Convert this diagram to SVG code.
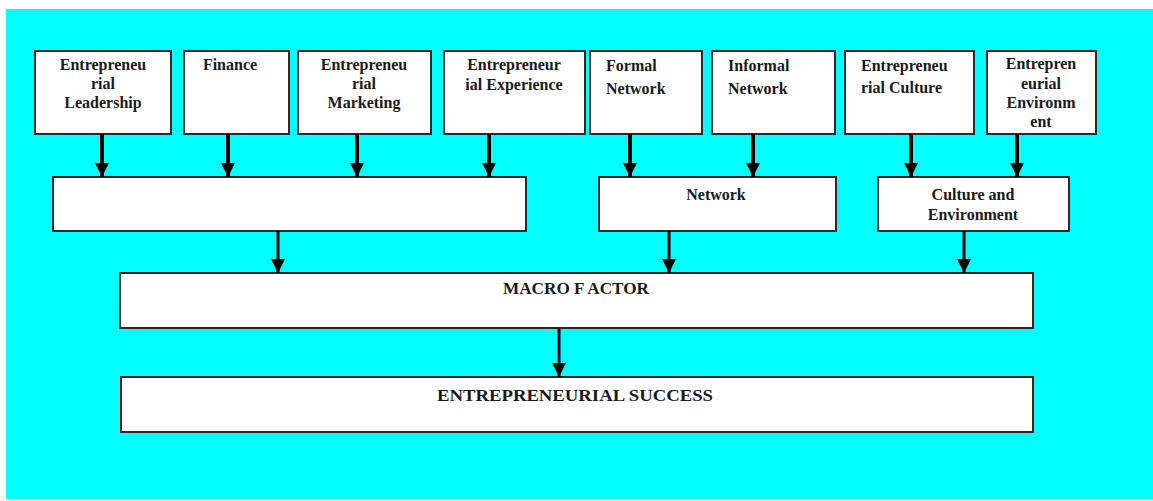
<svg xmlns="http://www.w3.org/2000/svg" width="1153" height="501" viewBox="0 0 1153 501">
  <style>
    .box { fill: #ffffff; stroke: #2a2a2a; stroke-width: 2; }
    .lbl { font-family: 'Liberation Serif', 'DejaVu Serif', serif; font-size: 16px; font-weight: bold; fill: #1a1a1a; }
    .mid { text-anchor: middle; }
    .conn { stroke: #000; fill: none; }
    .thick { stroke-width: 4; }
    .thin { stroke-width: 3; }
  </style>
  <defs>
    <marker id="head" markerUnits="userSpaceOnUse" markerWidth="14" markerHeight="14" viewBox="0 0 14 14" refX="7" refY="14" orient="0">
      <path d="M0,0 L14,0 L7,14 Z" fill="#000"/>
    </marker>
  </defs>

  <!-- page and backdrop -->
  <rect x="0" y="0" width="1153" height="501" fill="#ffffff"/>
  <rect x="6" y="9" width="1147" height="490" fill="#00ffff"/>

  <!-- top row factors -->
  <g id="leadership">
    <rect class="box" x="35" y="51" width="136" height="83"/>
    <text class="lbl mid" x="103" y="70">Entrepreneu</text>
    <text class="lbl mid" x="103" y="89">rial</text>
    <text class="lbl mid" x="103" y="108">Leadership</text>
  </g>
  <g id="finance">
    <rect class="box" x="184" y="51" width="105" height="83"/>
    <text class="lbl mid" x="230" y="70">Finance</text>
  </g>
  <g id="marketing">
    <rect class="box" x="298" y="51" width="133" height="83"/>
    <text class="lbl mid" x="364" y="70">Entrepreneu</text>
    <text class="lbl mid" x="364" y="89">rial</text>
    <text class="lbl mid" x="364" y="108">Marketing</text>
  </g>
  <g id="experience">
    <rect class="box" x="444" y="51" width="141" height="83"/>
    <text class="lbl mid" x="514" y="70">Entrepreneur</text>
    <text class="lbl mid" x="514" y="90">ial Experience</text>
  </g>
  <g id="formal-network">
    <rect class="box" x="590" y="51" width="112" height="83"/>
    <text class="lbl" x="606" y="71">Formal</text>
    <text class="lbl" x="606" y="94">Network</text>
  </g>
  <g id="informal-network">
    <rect class="box" x="712" y="51" width="123" height="83"/>
    <text class="lbl" x="728" y="71">Informal</text>
    <text class="lbl" x="728" y="94">Network</text>
  </g>
  <g id="culture">
    <rect class="box" x="845" y="51" width="129" height="83"/>
    <text class="lbl" x="861" y="71">Entrepreneu</text>
    <text class="lbl" x="861" y="93">rial Culture</text>
  </g>
  <g id="environment">
    <rect class="box" x="987" y="51" width="109" height="83"/>
    <text class="lbl mid" x="1041" y="69">Entrepren</text>
    <text class="lbl mid" x="1041" y="89">eurial</text>
    <text class="lbl mid" x="1041" y="108">Environm</text>
    <text class="lbl mid" x="1041" y="127">ent</text>
  </g>

  <!-- middle row groupings -->
  <g id="personal-group">
    <rect class="box" x="53" y="177" width="473" height="54"/>
  </g>
  <g id="network">
    <rect class="box" x="599" y="177" width="237" height="54"/>
    <text class="lbl mid" x="716" y="200">Network</text>
  </g>
  <g id="culture-environment">
    <rect class="box" x="878" y="177" width="191" height="54"/>
    <text class="lbl mid" x="973" y="200">Culture and</text>
    <text class="lbl mid" x="973" y="220">Environment</text>
  </g>

  <!-- macro level -->
  <g id="macro-factor">
    <rect class="box" x="120" y="273" width="913" height="55"/>
    <text class="lbl mid" x="576" y="294" font-size="15" textLength="146" lengthAdjust="spacingAndGlyphs">MACRO F ACTOR</text>
  </g>
  <g id="success">
    <rect class="box" x="121" y="377" width="912" height="55"/>
    <text class="lbl mid" x="575" y="401" font-size="21" textLength="276" lengthAdjust="spacingAndGlyphs">ENTREPRENEURIAL SUCCESS</text>
  </g>

  <!-- connectors -->
  <g id="connectors">
    <line class="conn thick" x1="102" y1="134" x2="102" y2="177" marker-end="url(#head)"/>
    <line class="conn thick" x1="228" y1="134" x2="228" y2="177" marker-end="url(#head)"/>
    <line class="conn thick" x1="357" y1="134" x2="357" y2="177" marker-end="url(#head)"/>
    <line class="conn thick" x1="489" y1="134" x2="489" y2="177" marker-end="url(#head)"/>
    <line class="conn thick" x1="630" y1="134" x2="630" y2="177" marker-end="url(#head)"/>
    <line class="conn thick" x1="753" y1="134" x2="753" y2="177" marker-end="url(#head)"/>
    <line class="conn thick" x1="911" y1="134" x2="911" y2="177" marker-end="url(#head)"/>
    <line class="conn thick" x1="1017" y1="134" x2="1017" y2="177" marker-end="url(#head)"/>
    <line class="conn thin" x1="278" y1="231" x2="278" y2="273" marker-end="url(#head)"/>
    <line class="conn thin" x1="669" y1="231" x2="669" y2="273" marker-end="url(#head)"/>
    <line class="conn thin" x1="964" y1="231" x2="964" y2="273" marker-end="url(#head)"/>
    <line class="conn thin" x1="559" y1="328" x2="559" y2="377" marker-end="url(#head)"/>
  </g>
</svg>
